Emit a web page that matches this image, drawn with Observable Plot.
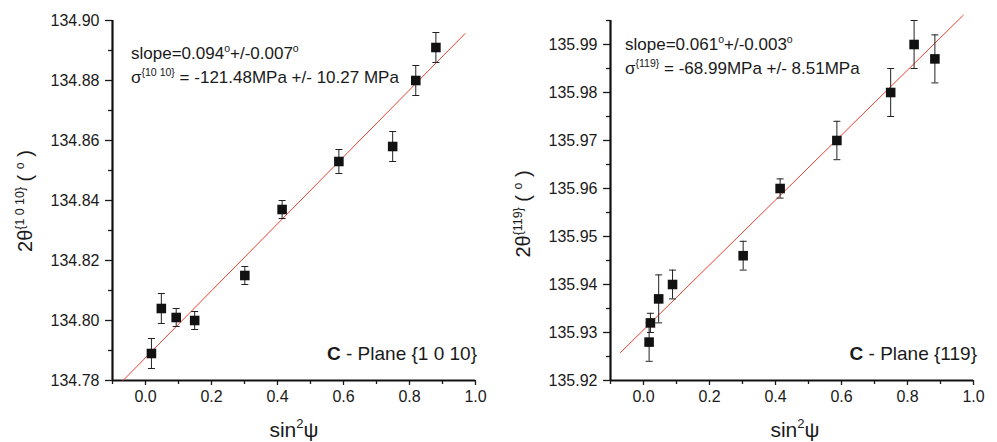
<!DOCTYPE html>
<html><head><meta charset="utf-8">
<script src="https://cdn.jsdelivr.net/npm/d3@7"></script>
<script src="https://cdn.jsdelivr.net/npm/@observablehq/plot@0.6"></script>
<style>
body{margin:0;background:#fff;}
#wrap{display:flex;width:997px;height:442px;overflow:hidden;}
svg{font-family:"Liberation Sans",Arial,sans-serif;display:block;}
</style></head><body><div id="wrap"></div>
<script>
// ---- shared axis data ----
const xTicks = [0, 0.2, 0.4, 0.6, 0.8, 1.0];
const xMinor = [-0.1, 0.1, 0.3, 0.5, 0.7, 0.9];
const xDomain = [-0.1, 1.0];

// ---- left panel: C-plane {1 0 10} ----
const sin2psiA = [0.018, 0.048, 0.093, 0.149, 0.301, 0.414, 0.586, 0.749, 0.819, 0.880];
const twoThetaA = [134.789, 134.804, 134.801, 134.800, 134.815, 134.837, 134.853, 134.858, 134.880, 134.891];
const errA = [0.005, 0.005, 0.003, 0.003, 0.003, 0.003, 0.004, 0.005, 0.005, 0.005];
const fitXA = [-0.068, 0.968];
const fitYA = [134.780, 134.8956];
const yTicksA = [134.78, 134.80, 134.82, 134.84, 134.86, 134.88, 134.90];
const yMinorA = [134.79, 134.81, 134.83, 134.85, 134.87, 134.89];
const yDomainA = [134.78, 134.90];

// ---- right panel: C-plane {119} ----
const sin2psiB = [0.017, 0.021, 0.046, 0.088, 0.302, 0.414, 0.586, 0.749, 0.820, 0.883];
const twoThetaB = [135.928, 135.932, 135.937, 135.940, 135.946, 135.960, 135.970, 135.980, 135.990, 135.987];
const errB = [0.004, 0.002, 0.005, 0.003, 0.003, 0.002, 0.004, 0.005, 0.005, 0.005];
const fitXB = [-0.070, 0.969];
const fitYB = [135.9258, 135.9961];
const yTicksB = [135.92, 135.93, 135.94, 135.95, 135.96, 135.97, 135.98, 135.99];
const yMinorB = [135.925, 135.935, 135.945, 135.955, 135.965, 135.975, 135.985, 135.995];
const yDomainB = [135.92, 135.995];

const capSymbol = {
  draw(ctx, size) {
    const w = Math.sqrt(size / Math.PI);
    ctx.moveTo(-w, 0); ctx.lineTo(w, 0);
  }
};

function panel(cfg) {
  const pts = cfg.x.map((x, i) => ({x, y: cfg.y[i], lo: cfg.y[i] - cfg.e[i], hi: cfg.y[i] + cfg.e[i]}));
  const fit = cfg.fitX.map((x, i) => ({x, y: cfg.fitY[i]}));
  const plot = Plot.plot({
    width: cfg.width, height: 442,
    marginLeft: cfg.ml, marginRight: cfg.mr, marginTop: 20, marginBottom: 62,
    x: {domain: xDomain},
    y: {domain: cfg.yDomain},
    style: {fontFamily: '"Liberation Sans",Arial,sans-serif', fontSize: "16px", color: "#1a1a1a", background: "white", overflow: "visible"},
    marks: [
      Plot.axisX({ticks: xTicks, tickSize: 5, tickPadding: 5, tickFormat: d3.format(".1f"), label: null, strokeWidth: 1.3}),
      Plot.axisX({ticks: xMinor, tickSize: 4, text: null, label: null, strokeWidth: 1.3}),
      Plot.axisY({ticks: cfg.yTicks, tickSize: 7, tickPadding: 6, tickFormat: d3.format(cfg.fmt), label: null, strokeWidth: 1.3}),
      Plot.axisY({ticks: cfg.yMinor, tickSize: 4, text: null, label: null, strokeWidth: 1.3}),
      Plot.ruleX([xDomain[0]], {stroke: "#111", strokeWidth: 2.2}),
      Plot.ruleY([cfg.yDomain[0]], {stroke: "#111", strokeWidth: 2.2}),
      Plot.line(fit, {x: "x", y: "y", stroke: "#e8402f", strokeWidth: 1}),
      Plot.ruleX(pts, {x: "x", y1: "lo", y2: "hi", stroke: "#222", strokeWidth: 1}),
      Plot.dot(pts, {x: "x", y: "lo", symbol: capSymbol, r: 3.5, stroke: "#222", strokeWidth: 1}),
      Plot.dot(pts, {x: "x", y: "hi", symbol: capSymbol, r: 3.5, stroke: "#222", strokeWidth: 1}),
      Plot.dot(pts, {x: "x", y: "y", symbol: "square", r: 5.4, fill: "#111", stroke: null})
    ]
  });
  const svg = d3.select(plot);
  // text helper with superscripts: parts = [[text, "sup"|"b"|""], ...]
  function rich(g, parts, fs, anchor) {
    const t = g.append("text").attr("font-size", fs).attr("fill", "#1a1a1a").attr("text-anchor", anchor);
    let raised = false;
    const sh = fs * 0.42;
    parts.forEach(([s, kind]) => {
      const ts = t.append("tspan").text(s);
      if (kind === "sup") {
        ts.attr("font-size", fs * 0.62);
        if (!raised) { ts.attr("dy", -sh); raised = true; }
      } else {
        if (raised) { ts.attr("dy", sh); raised = false; }
        if (kind === "b") ts.attr("font-weight", "bold");
      }
    });
    return t;
  }
  // annotations
  const a1 = svg.append("g").attr("transform", `translate(${cfg.annX},${cfg.annY})`);
  rich(a1, cfg.line1, 17, "start");
  const a2 = svg.append("g").attr("transform", `translate(${cfg.annX},${cfg.annY + 24})`);
  rich(a2, cfg.line2, 17, "start");
  // plane label
  const p = svg.append("g").attr("transform", `translate(${cfg.planeX},360)`);
  rich(p, cfg.plane, 19, "end");
  // x label
  const xl = svg.append("g").attr("transform", `translate(${cfg.xlabX},437)`);
  rich(xl, [["sin", ""], ["2", "sup"], ["ψ", ""]], 21, "middle");
  // y label
  const yl = svg.append("g").attr("transform", `translate(32,${cfg.ylabY}) rotate(-90)`);
  rich(yl, cfg.ylab, 20, "middle");
  return plot;
}

const wrap = document.getElementById("wrap");
wrap.appendChild(panel({
  width: 498, ml: 112, mr: 23,
  x: sin2psiA, y: twoThetaA, e: errA, fitX: fitXA, fitY: fitYA,
  yDomain: yDomainA, yTicks: yTicksA, yMinor: yMinorA, fmt: ".2f",
  annX: 131, annY: 59,
  line1: [["slope=0.094", ""], ["o", "sup"], ["+/-0.007", ""], ["o", "sup"]],
  line2: [["σ", ""], ["{10 10}", "sup"], [" = -121.48MPa +/- 10.27 MPa", ""]],
  planeX: 477, plane: [["C", "b"], [" - Plane {1 0 10}", ""]],
  xlabX: 294, ylabY: 201,
  ylab: [["2θ", ""], ["{1 0 10}", "sup"], [" ( ", ""], ["o", "sup"], [" )", ""]]
}));
wrap.appendChild(panel({
  width: 499, ml: 112, mr: 24,
  x: sin2psiB, y: twoThetaB, e: errB, fitX: fitXB, fitY: fitYB,
  yDomain: yDomainB, yTicks: yTicksB, yMinor: yMinorB, fmt: ".2f",
  annX: 127, annY: 50,
  line1: [["slope=0.061", ""], ["o", "sup"], ["+/-0.003", ""], ["o", "sup"]],
  line2: [["σ", ""], ["{119}", "sup"], [" = -68.99MPa +/- 8.51MPa", ""]],
  planeX: 479, plane: [["C", "b"], [" - Plane {119}", ""]],
  xlabX: 297, ylabY: 214,
  ylab: [["2θ", ""], ["{119}", "sup"], [" ( ", ""], ["o", "sup"], [" )", ""]]
}));
</script></body></html>
